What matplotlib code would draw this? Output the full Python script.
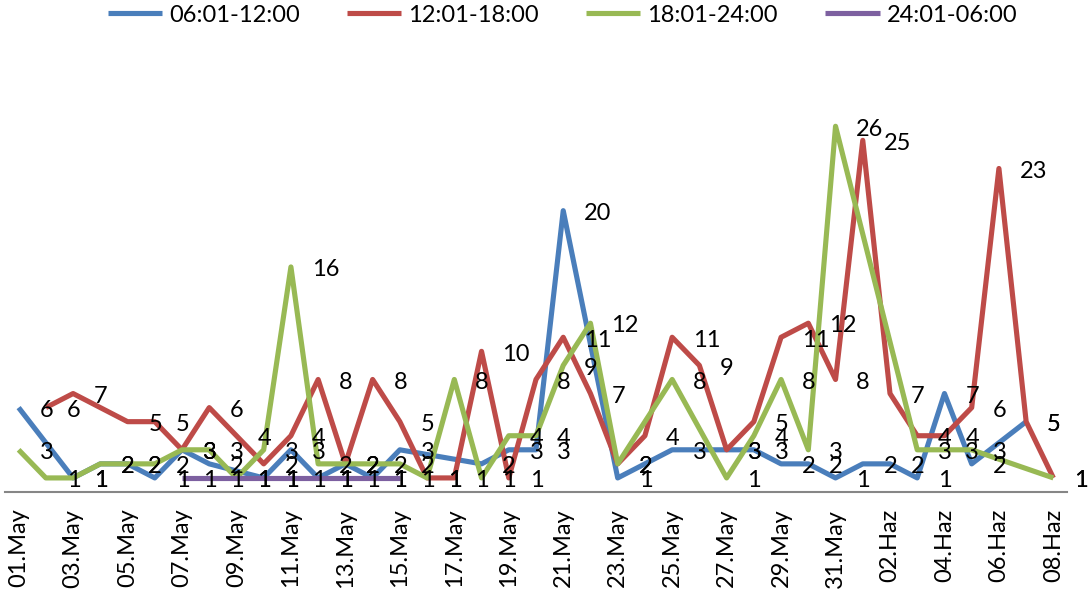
import numpy as np
import matplotlib
matplotlib.use("Agg")
import matplotlib.pyplot as plt

plt.rcParams['font.family'] = ['Lato', 'DejaVu Sans']

nan = np.nan

# categories: 01.May .. 31.May, 01.Haz .. 08.Haz
days = [f"{d:02d}.May" for d in range(1, 32)] + [f"{d:02d}.Haz" for d in range(1, 9)]

series_names = ["06:01-12:00", "12:01-18:00", "18:01-24:00", "24:01-06:00"]

blue = [6, nan, 1, 2, 2, 1, 3, 2, nan, 1,
        3, 1, 2, 1, 3, nan, nan, 2, 3, 3,
        20, nan, 1, nan, 3, nan, 3, 3, 2, 2,
        1,
        2, 2, 1, 7, 2, nan, 5, nan]
red = [nan, 6, 7, nan, 5, 5, 3, 6, 4, 2,
       4, 8, 2, 8, 5, 1, 1, 10, 1, 8,
       11, 7, 2, 4, 11, 9, 3, 5, 11, 12,
       8,
       25, 7, 4, 4, 6, 23, 5, 1]
green = [3, 1, 1, 2, 2, 2, 3, 3, 1, 3,
         16, 2, 2, 2, 2, 1, 8, 1, 4, 4,
         9, 12, 2, nan, 8, nan, 1, 4, 8, 3,
         26,
         nan, nan, 3, 3, 3, nan, nan, 1]
purple = [nan] * 6 + [1] * 9 + [nan] * 24

colors = ["#4A7EBB", "#BE4B48", "#98B954", "#7D60A0"]

fig = plt.figure(figsize=(10.92, 6.01), dpi=100)
ax = fig.add_axes([5 / 1092, 1 - 492 / 601, 1062 / 1092, (492 - 70) / 601])

x = np.arange(len(days))
for vals, col, name in zip([blue, red, green, purple], colors, series_names):
    v = np.array(vals, dtype=float)
    m = ~np.isnan(v)
    # gaps are bridged like excel does
    ax.plot(x[m], v[m], color=col, lw=3.7, label=name,
            solid_joinstyle='round', solid_capstyle='butt')
    for xi, yi in zip(x[m], v[m]):
        ax.annotate(f"{int(yi)}", (xi, yi), xytext=(15, -2), textcoords='offset points',
                    ha='left', va='center', fontsize=17, color='black',
                    annotation_clip=False)

ax.set_xlim(-0.5, len(days) - 0.5)
ax.set_ylim(0, 30)
ax.set_xticks(x[::2])
ax.set_xticklabels(days[::2], rotation=90, fontsize=17)
ax.tick_params(axis='x', length=0, pad=12)
ax.set_yticks([])
for s in ['top', 'right', 'left']:
    ax.spines[s].set_visible(False)
ax.spines['bottom'].set_color('#868686')
ax.spines['bottom'].set_linewidth(1.5)

fig.legend(loc='center', bbox_to_anchor=(0.515, 0.975), ncol=4, frameon=False,
           fontsize=17, handlelength=2.3, handletextpad=0.3, columnspacing=2.0)

fig.savefig("out.png", dpi=100)
